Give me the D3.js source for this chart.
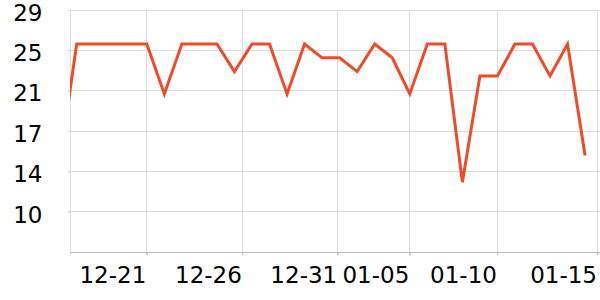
<!DOCTYPE html>
<html>
<head>
<meta charset="utf-8">
<script src="https://cdn.jsdelivr.net/npm/d3@7"></script>
<style>
  html, body { margin: 0; padding: 0; background: #fff; }
  svg { display: block; font-family: "DejaVu Sans", sans-serif; }
</style>
</head>
<body>
<svg id="chart" width="600" height="300"></svg>
<script>
// ---- data ----
const dates = [
  "2023-12-16","2023-12-17","2023-12-18","2023-12-19","2023-12-20","2023-12-21",
  "2023-12-22","2023-12-23","2023-12-24","2023-12-25","2023-12-26","2023-12-27",
  "2023-12-28","2023-12-29","2023-12-30","2023-12-31","2024-01-01","2024-01-02",
  "2024-01-03","2024-01-04","2024-01-05","2024-01-06","2024-01-07","2024-01-08",
  "2024-01-09","2024-01-10","2024-01-11","2024-01-12","2024-01-13","2024-01-14",
  "2024-01-15"
];
const values = [
  14.5, 26, 26, 26, 26, 26,
  21.3, 26, 26, 26, 23.4, 26,
  26, 21.3, 26, 24.7, 24.7, 23.4,
  26, 24.7, 21.3, 26, 26, 13,
  23, 23, 26, 26, 23, 26,
  15.5
];
const xDomain = ["2023-12-16T14:50", "2024-01-15T20:25"];
const xTickValues = ["2023-12-21T00:00","2023-12-26T10:50","2023-12-31T21:20","2024-01-05T00:00","2024-01-10T00:00","2024-01-15T17:00"];
const xTickLabels = ["12-21","12-26","12-31","01-05","01-10","01-15"];
const yDomain = [6.4, 29.2];
const yTickValues = [10.2, 14.0, 17.8, 21.6, 25.4, 29.2];
const yTickLabels = ["10","14","17","21","25","29"];

// ---- layout ----
const plotLeft = 70, plotRight = 600, plotTop = 10, plotBottom = 252.3;
const parseDay = d3.timeParse("%Y-%m-%d");
const parseDT = d3.timeParse("%Y-%m-%dT%H:%M");

const data = dates.map((d, i) => ({ date: parseDay(d), value: values[i] }));

const x = d3.scaleTime().domain(xDomain.map(parseDT)).range([plotLeft, plotRight]);
const y = d3.scaleLinear().domain(yDomain).range([plotBottom, plotTop]);

const svg = d3.select("#chart");

svg.append("defs").append("clipPath").attr("id", "plotClip")
  .append("rect").attr("x", plotLeft).attr("y", plotTop - 5)
  .attr("width", plotRight - plotLeft).attr("height", plotBottom - plotTop + 5);

// grid lines
const grid = svg.append("g").attr("class", "grid");
grid.selectAll("line.h").data(yTickValues).join("line")
  .attr("class", "h")
  .attr("x1", plotLeft - 2).attr("x2", plotRight)
  .attr("y1", d => y(d)).attr("y2", d => y(d))
  .attr("stroke", "#dcdcdc").attr("stroke-width", 1).attr("shape-rendering", "crispEdges");
const xTicks = xTickValues.map(parseDT);
grid.selectAll("line.v").data(xTicks).join("line")
  .attr("class", "v")
  .attr("x1", d => x(d)).attr("x2", d => x(d))
  .attr("y1", plotTop).attr("y2", plotBottom + 3)
  .attr("stroke", "#dcdcdc").attr("stroke-width", 1).attr("shape-rendering", "crispEdges");

// y axis
const yAxis = svg.append("g").attr("transform", `translate(${plotLeft},0)`)
  .call(d3.axisLeft(y).tickValues(yTickValues).tickFormat((d, i) => yTickLabels[i]).tickSize(2).tickSizeOuter(0));
yAxis.select(".domain").attr("stroke", "#dcdcdc").attr("shape-rendering", "crispEdges")
  .attr("d", `M0.5,${plotTop}V${plotBottom + 3}`);
yAxis.selectAll(".tick line").attr("stroke", "#dcdcdc");
yAxis.selectAll(".tick text")
  .attr("x", -27.5).attr("dy", "0.44em")
  .attr("font-size", 23).attr("font-family", "DejaVu Sans").attr("fill", "#000");

// x axis
const xAxis = svg.append("g").attr("transform", `translate(0,${plotBottom})`)
  .call(d3.axisBottom(x).tickValues(xTicks).tickFormat((d, i) => xTickLabels[i]).tickSize(3).tickSizeOuter(0));
xAxis.select(".domain").attr("stroke", "#bbbbbb").attr("shape-rendering", "crispEdges");
xAxis.selectAll(".tick line").attr("stroke", "#bbbbbb");
xAxis.selectAll(".tick text")
  .attr("text-anchor", "end").attr("x", -1).attr("y", 30.5).attr("dy", 0)
  .attr("font-size", 23).attr("font-family", "DejaVu Sans").attr("fill", "#000");

// line
const line = d3.line().x(d => x(d.date)).y(d => y(d.value));
svg.append("path")
  .datum(data)
  .attr("clip-path", "url(#plotClip)")
  .attr("fill", "none")
  .attr("stroke", "#ee4b2b")
  .attr("stroke-width", 3)
  .attr("stroke-linejoin", "miter")
  .attr("d", line);
</script>
</body>
</html>
